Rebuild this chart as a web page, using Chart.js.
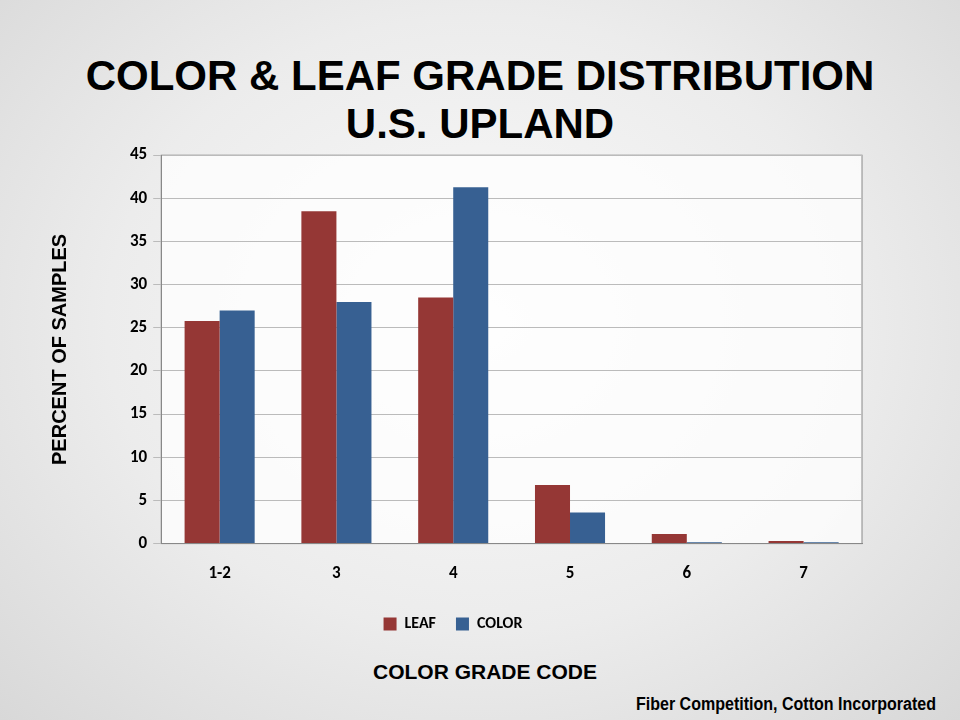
<!DOCTYPE html>
<html><head><meta charset="utf-8">
<script src="https://cdn.jsdelivr.net/npm/chart.js@4"></script>
<style>
html,body{margin:0;padding:0;width:960px;height:720px;overflow:hidden;background:radial-gradient(ellipse at 50% 45%,#fafafa 0%,#ececec 55%,#d8d8d8 100%);font-family:"Liberation Sans",Arial,sans-serif}
#t{position:absolute;left:0;top:52px;width:960px;text-align:center;font-weight:bold;font-size:42px;line-height:48px;color:#000}
#wrap{position:absolute;left:30px;top:139px;width:850px;height:503px}
#xt{position:absolute;left:0;width:970px;top:660px;text-align:center;font-weight:bold;font-size:21px}
#src{position:absolute;left:636px;top:694px;font-family:"Liberation Sans Narrow",Arial;font-weight:bold;font-size:18px;transform-origin:0 0;transform:scaleX(0.89);white-space:nowrap}
</style></head><body>
<div id="t">COLOR &amp; LEAF GRADE DISTRIBUTION<br>U.S. UPLAND</div>
<div id="wrap"><canvas id="c"></canvas></div>
<div id="xt">COLOR GRADE CODE</div>
<div id="src">Fiber Competition, Cotton Incorporated</div>
<script>
const categories=["1-2","3","4","5","6","7"];
const leaf=[25.8,38.5,28.5,6.8,1.1,0.3];
const color=[27.0,28.0,41.3,3.6,0.15,0.15];
const plotBg={id:'pbg',beforeDraw(ch){const a=ch.chartArea,x=ch.ctx;x.save();x.fillStyle='rgba(255,255,255,0.75)';x.fillRect(a.left,a.top,a.right-a.left,a.bottom-a.top);x.strokeStyle='#888';x.lineWidth=1;x.strokeRect(a.left,a.top,a.right-a.left,a.bottom-a.top);x.restore();}};
const f='Calibri,Carlito,"Open Sans",sans-serif';
new Chart(document.getElementById('c'),{type:'bar',
data:{labels:categories,datasets:[
{label:'LEAF',data:leaf,backgroundColor:'#953735'},
{label:'COLOR',data:color,backgroundColor:'#376092'}]},
options:{responsive:true,maintainAspectRatio:false,animation:false,
layout:{padding:{left:14,right:18,top:0,bottom:0}},
plugins:{legend:{position:'bottom',labels:{boxWidth:13,boxHeight:13,font:{size:16,weight:'bold',family:f},color:'#000',padding:20}},tooltip:{enabled:false}},
scales:{
x:{grid:{display:false},border:{color:'#888'},ticks:{font:{size:17,weight:'bold',family:f},color:'#000',padding:12},categoryPercentage:0.6,barPercentage:1},
y:{min:0,max:45,border:{color:'#888'},grid:{color:'#bbb',borderDash:[1,2]},ticks:{stepSize:5,font:{size:17,weight:'bold',family:f},color:'#000',padding:6},
title:{display:true,text:'PERCENT OF SAMPLES',font:{size:20,weight:'bold',family:'"Liberation Sans",Arial'},color:'#000',padding:{bottom:52}}}
},
datasets:{bar:{categoryPercentage:0.6,barPercentage:1}}
},plugins:[plotBg]});
</script></body></html>
